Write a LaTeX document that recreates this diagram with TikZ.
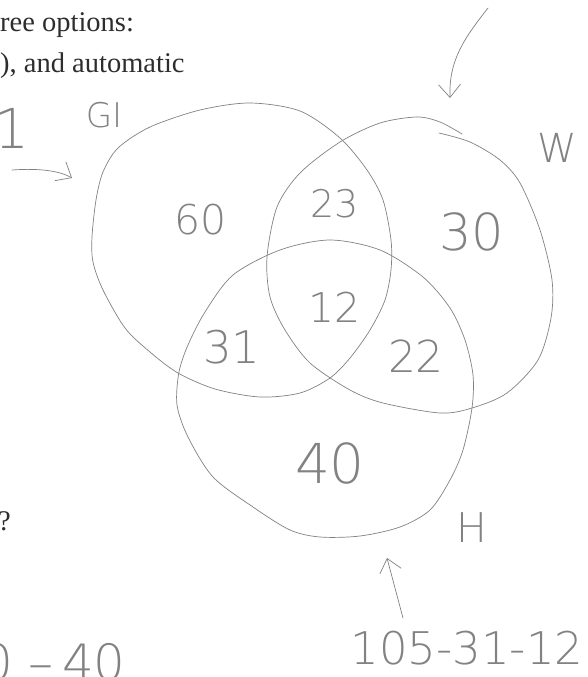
\documentclass[tikz,border=0pt]{standalone}
\usepackage{fontspec}
\usetikzlibrary{arrows.meta,positioning}
\newfontfamily\handfont{DejaVuSans-ExtraLight.ttf}
\newfontfamily\printfont{Liberation Serif}
\definecolor{pencil}{RGB}{130,130,130}
\definecolor{printink}{RGB}{45,45,45}
\tikzset{
  every picture/.style={line cap=round,line join=round},
  setline/.style={draw=pencil,line width=0.7pt},
  hand/.style={font=\handfont\fontsize{#1}{#1}\selectfont,text=pencil,inner sep=0pt},
  hand/.default=42,
  printed/.style={font=\printfont\fontsize{28.5}{32}\selectfont,text=printink,inner sep=0pt},
  pentip/.style={draw=pencil,line width=0.7pt,-{Straight Barb[length=13pt,width=22pt]}},
}
\begin{document}
\begin{tikzpicture}[x=1pt,y=-1pt]
  \useasboundingbox[fill=white] (0,0) rectangle (588,677);
  % printed page text, cut at the left edge
  \node[printed,anchor=base west] (line1) at (0,32) {ree options:};
  \node[printed,anchor=base west] (line2) at (0,72) {), and automatic};
  \node[printed,anchor=base east] (line3) at (11,530) {s?};
  % the three sets
  \draw[setline] plot[smooth cycle] coordinates {(92,237) (96,200) (103,172) (118,148)
    (150,127) (200,110) (250,103) (300,111) (340,138) (367,170) (383,200) (391,240)
    (391,270) (385,300) (370,330) (350,358) (330,378) (300,393) (260,397) (215,389)
    (178,373) (150,352) (125,328) (103,290) (93,262)};
  \draw[setline] plot[smooth] coordinates {(439,133) (470,142) (500,160) (520,183)
    (540,230) (552,280) (551,318) (538,360) (507,393) (472,408) (440,413) (383,403)
    (350,390) (310,363) (285,330) (270,297) (267,257) (277,207) (300,173) (340,142)
    (380,123) (417,117) (440,122) (462,134)};
  \draw[setline] plot[smooth cycle] coordinates {(177,405) (179,372) (188,345) (205,312)
    (233,275) (280,250) (330,240) (380,250) (423,277) (450,308) (465,340) (473,375)
    (472,408) (463,450) (450,480) (430,510) (400,527) (360,536) (320,537) (290,530)
    (253,507) (213,477) (188,437)};
  % counts in the regions
  \foreach \v/\x/\y/\s/\n in {60/201/220/41/rg, 23/335/204/38/rgw, 30/472/232/51/rw,
      12/335/307/41/rgwh, 31/232/347/45/rgh, 22/416/356/44/rwh, 40/330/463/55/rh}
    \node[hand=\s] (\n) at (\x,\y) {\v};
  \node[hand=34] (labG) at (104,115) {GI};
  \node[hand=40] (labW) at (557,148) {W};
  \node[hand=41] (labH) at (472,528) {H};
  \node[hand=55,anchor=east] (noteG) at (30,128) {31};
  \node[hand=45] (noteH) at (467,648) {105-31-12};
  \node[hand=50,anchor=base west] (noteL) at (-19,680) {0 –\,40};
  % arrows
  \coordinate (gfrom) at (12,170);
  \coordinate (gto) at (72,178);
  \coordinate (wfrom) at (488,8);
  \coordinate (wto) at (450,98);
  \coordinate (hfrom) at (403,618);
  \coordinate (hto) at (387,558);
  \draw[pentip] (gfrom) .. controls (40,168) and (60,171) .. (gto);
  \draw[pentip] (wfrom) to[out=232,in=92] (wto);
  \draw[pentip] (hfrom) -- (hto);
\end{tikzpicture}
\end{document}
